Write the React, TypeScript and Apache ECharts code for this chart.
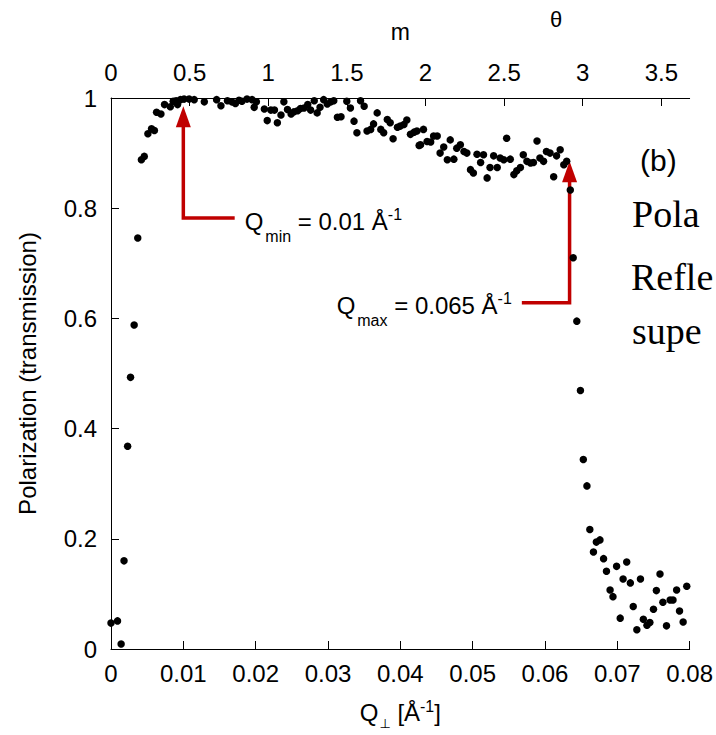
import React, { useEffect, useRef } from "react";
import * as echarts from "echarts";

// Q⊥ (Å^-1) and polarization values, in three segments
const riseQ = [0.0000, 0.0009, 0.0014, 0.0018, 0.0023, 0.0027, 0.0032, 0.0037, 0.0042, 0.0046, 0.0051, 0.0056, 0.0060, 0.0063];
const riseP = [0.047, 0.051, 0.009, 0.160, 0.368, 0.493, 0.588, 0.746, 0.888, 0.894, 0.935, 0.944, 0.941, 0.974];

const plateauQ = [
  0.0069, 0.0074, 0.0082, 0.0086, 0.0090, 0.0092, 0.0096, 0.0101, 0.0108, 0.0115,
  0.0129, 0.0146, 0.0152, 0.0161, 0.0167, 0.0172, 0.0177, 0.0181, 0.0188, 0.0195,
  0.0198, 0.0201, 0.0212, 0.0216, 0.0221, 0.0226, 0.0230, 0.0235, 0.0239, 0.0244,
  0.0249, 0.0253, 0.0258, 0.0262, 0.0267, 0.0272, 0.0276, 0.0281, 0.0285, 0.0289,
  0.0294, 0.0299, 0.0304, 0.0308, 0.0313, 0.0318, 0.0326, 0.0331, 0.0336, 0.0340,
  0.0345, 0.0350, 0.0354, 0.0359, 0.0363, 0.0368, 0.0373, 0.0377, 0.0382, 0.0386,
  0.0390, 0.0396, 0.0400, 0.0405, 0.0409, 0.0414, 0.0419, 0.0423, 0.0426, 0.0428,
  0.0432, 0.0437, 0.0442, 0.0446, 0.0451, 0.0455, 0.0460, 0.0465, 0.0469, 0.0474,
  0.0478, 0.0483, 0.0488, 0.0492, 0.0497, 0.0501, 0.0506, 0.0511, 0.0515, 0.0520,
  0.0524, 0.0529, 0.0534, 0.0538, 0.0543, 0.0547, 0.0552, 0.0557, 0.0561, 0.0566,
  0.0570, 0.0575, 0.0580, 0.0584, 0.0589, 0.0593, 0.0598, 0.0602, 0.0607, 0.0612,
  0.0616, 0.0621, 0.0626, 0.0630,
];
const plateauP = [
  0.971, 0.988, 0.984, 0.994, 0.995, 0.988, 0.997, 0.998, 0.998, 0.997,
  0.993, 0.997, 0.986, 0.995, 0.993, 0.990, 0.996, 0.994, 0.998, 0.997,
  0.983, 0.993, 0.980, 0.959, 0.978, 0.978, 0.955, 0.969, 0.993, 0.979,
  0.971, 0.975, 0.977, 0.981, 0.982, 0.988, 0.978, 0.995, 0.973, 0.983,
  0.997, 0.989, 0.993, 0.995, 0.965, 0.966, 0.994, 0.982, 0.958, 0.937,
  0.995, 0.985, 0.940, 0.943, 0.953, 0.973, 0.943, 0.937, 0.961, 0.955,
  0.926, 0.947, 0.949, 0.952, 0.960, 0.934, 0.938, 0.940, 0.914, 0.915,
  0.943, 0.921, 0.920, 0.931, 0.931, 0.900, 0.911, 0.888, 0.924, 0.889,
  0.909, 0.915, 0.903, 0.900, 0.870, 0.864, 0.898, 0.883, 0.897, 0.855,
  0.874, 0.895, 0.874, 0.891, 0.888, 0.927, 0.889, 0.861, 0.868, 0.874,
  0.897, 0.885, 0.882, 0.883, 0.922, 0.891, 0.885, 0.903, 0.900, 0.857,
  0.895, 0.906, 0.879, 0.885,
];

const dropQ = [
  0.0635, 0.0639, 0.0644, 0.0649, 0.0653, 0.0658, 0.0662, 0.0667, 0.0671, 0.0676,
  0.0681, 0.0685, 0.0690, 0.0694, 0.0699, 0.0704, 0.0708, 0.0713, 0.0718, 0.0722,
  0.0727, 0.0732, 0.0736, 0.0741, 0.0745, 0.0750, 0.0754, 0.0759, 0.0763, 0.0768,
  0.0773, 0.0777, 0.0782, 0.0786, 0.0791, 0.0796,
];
const dropP = [
  0.833, 0.710, 0.595, 0.469, 0.344, 0.296, 0.217, 0.176, 0.194, 0.198,
  0.164, 0.141, 0.107, 0.095, 0.150, 0.056, 0.127, 0.158, 0.120, 0.077,
  0.035, 0.127, 0.054, 0.043, 0.048, 0.072, 0.106, 0.136, 0.085, 0.042,
  0.089, 0.089, 0.107, 0.069, 0.049, 0.114,
];

// axes
const qMin = 0;
const qMax = 0.08;
const qInterval = 0.01;
const mMax = 3.68; // top axis (m = Q / Qc(Ni))
const mInterval = 0.5;
const pMin = 0;
const pMax = 1;
const pInterval = 0.2;

// annotation anchors (data coordinates)
const qminArrow = { q: 0.01, tipP: 0.985, elbowP: 0.782, endQ: 0.0171 };
const qmaxArrow = { q: 0.0634, tipP: 0.885, elbowP: 0.6285, endQ: 0.0568 };

const FONT = "'Liberation Sans', Arial, Helvetica, sans-serif";
const SERIF = "'Liberation Serif', 'Times New Roman', serif";
const RED = "#c00000";

export default function App() {
  const ref = useRef<HTMLDivElement>(null);

  useEffect(() => {
    document.body.style.margin = "0";
    const el = ref.current!;
    const chart = echarts.init(el, null, { renderer: "svg" });

    const data: number[][] = [];
    riseQ.forEach((q, i) => data.push([q, riseP[i]]));
    plateauQ.forEach((q, i) => data.push([q, plateauP[i]]));
    dropQ.forEach((q, i) => data.push([q, dropP[i]]));

    const axisLineStyle = { color: "#000", width: 1 };
    const labelStyle = { color: "#000", fontSize: 24, fontFamily: FONT };

    const option: any = {
      animation: false,
      backgroundColor: "#fff",
      grid: { left: 111, right: 25, top: 98, bottom: 85, containLabel: false },
      xAxis: [
        {
          type: "value",
          position: "bottom",
          min: qMin,
          max: qMax,
          interval: qInterval,
          axisLine: { show: true, onZero: false, lineStyle: axisLineStyle },
          axisTick: { show: true, inside: true, length: 8, lineStyle: { color: "#000" } },
          axisLabel: {
            ...labelStyle,
            margin: 12,
            formatter: (v: number) => String(+v.toFixed(2)),
          },
          splitLine: { show: false },
          name: "{m|Q}{sub|⊥}{m| [Å}{sup|-1}{m|]}",
          nameLocation: "middle",
          nameGap: 46,
          nameTextStyle: {
            color: "#000",
            fontSize: 24,
            fontFamily: FONT,
            rich: {
              m: { fontSize: 24, fontFamily: FONT, color: "#000", verticalAlign: "middle" },
              sub: {
                fontSize: 13,
                fontFamily: "'DejaVu Sans', sans-serif",
                color: "#000",
                verticalAlign: "middle",
                padding: [22, 0, 0, 1],
              },
              sup: { fontSize: 16, fontFamily: FONT, color: "#000", verticalAlign: "middle", padding: [0, 0, 12, 0] },
            },
          },
        },
        {
          type: "value",
          position: "top",
          min: 0,
          max: mMax,
          interval: mInterval,
          axisLine: { show: true, onZero: false, lineStyle: axisLineStyle },
          axisTick: { show: true, inside: true, length: 8, lineStyle: { color: "#000" } },
          axisLabel: {
            ...labelStyle,
            margin: 14,
            showMaxLabel: false,
            formatter: (v: number) => String(+v.toFixed(2)),
          },
          splitLine: { show: false },
          name: "m",
          nameLocation: "middle",
          nameGap: 55,
          nameTextStyle: { color: "#000", fontSize: 23, fontFamily: FONT },
        },
      ],
      yAxis: {
        type: "value",
        min: pMin,
        max: pMax,
        interval: pInterval,
        axisLine: { show: true, onZero: false, lineStyle: axisLineStyle },
        axisTick: { show: true, inside: true, length: 8, lineStyle: { color: "#000" } },
        axisLabel: { ...labelStyle, margin: 14 },
        splitLine: { show: false },
        name: "Polarization (transmission)",
        nameLocation: "middle",
        nameRotate: 90,
        nameGap: 72,
        nameTextStyle: { color: "#000", fontSize: 24, fontFamily: FONT },
      },
      series: [
        {
          type: "scatter",
          xAxisIndex: 0,
          yAxisIndex: 0,
          symbol: "circle",
          symbolSize: 7.5,
          itemStyle: { color: "#000", opacity: 1 },
          silent: true,
          data,
        },
      ],
    };

    chart.setOption(option);

    const px = (q: number, p: number) =>
      chart.convertToPixel({ seriesIndex: 0 }, [q, p]) as number[];

    const arrow = (a: { q: number; tipP: number; elbowP: number; endQ: number }) => {
      const tip = px(a.q, a.tipP);
      const elbow = px(a.q, a.elbowP);
      const end = px(a.endQ, a.elbowP);
      const headLen = 21;
      const headHalf = 7.5;
      return {
        tip,
        elbow,
        end,
        elements: [
          {
            type: "polyline",
            silent: true,
            shape: { points: [[end[0], elbow[1]], [elbow[0], elbow[1]], [tip[0], tip[1] + headLen - 2]] },
            style: { stroke: RED, lineWidth: 3.5, fill: "none", lineJoin: "miter" },
          },
          {
            type: "polygon",
            silent: true,
            shape: {
              points: [
                [tip[0], tip[1]],
                [tip[0] - headHalf, tip[1] + headLen],
                [tip[0] + headHalf, tip[1] + headLen],
              ],
            },
            style: { fill: RED, stroke: "none" },
          },
        ],
      };
    };

    const a1 = arrow(qminArrow);
    const a2 = arrow(qmaxArrow);

    const annRich = {
      m: { fontSize: 24, fontFamily: FONT, fill: "#000", verticalAlign: "middle" },
      sub: { fontSize: 16, fontFamily: FONT, fill: "#000", verticalAlign: "middle", padding: [30, 0, 0, 2] },
      sup: { fontSize: 16, fontFamily: FONT, fill: "#000", verticalAlign: "middle", padding: [0, 0, 14, 0] },
    };

    const serifText = (text: string, x: number, y: number) => ({
      type: "text",
      silent: true,
      x,
      y,
      style: { text, fontSize: 38, fontFamily: SERIF, fill: "#000", align: "left", verticalAlign: "middle" },
    });

    chart.setOption({
      graphic: [
        ...a1.elements,
        ...a2.elements,
        {
          type: "text",
          silent: true,
          x: a1.end[0] + 10,
          y: a1.elbow[1] + 3,
          style: {
            text: "{m|Q}{sub|min}{m| = 0.01 Å}{sup|-1}",
            rich: annRich,
            align: "left",
            verticalAlign: "middle",
            fill: "#000",
          },
        },
        {
          type: "text",
          silent: true,
          x: a2.end[0] - 10,
          y: a2.elbow[1] + 3,
          style: {
            text: "{m|Q}{sub|max}{m| = 0.065 Å}{sup|-1}",
            rich: annRich,
            align: "right",
            verticalAlign: "middle",
            fill: "#000",
          },
        },
        {
          type: "text",
          silent: true,
          x: 640,
          y: 160,
          style: { text: "(b)", fontSize: 30, fontFamily: FONT, fill: "#000", align: "left", verticalAlign: "middle" },
        },
        serifText("Pola", 632, 214),
        serifText("Refle", 631, 277),
        serifText("supe", 632, 331),
        {
          type: "text",
          silent: true,
          x: 556,
          y: 19,
          style: { text: "θ", fontSize: 22, fontFamily: FONT, fill: "#000", align: "center", verticalAlign: "middle" },
        },
      ],
    });

    return () => {
      chart.dispose();
    };
  }, []);

  return <div ref={ref} style={{ width: 716, height: 735, overflow: "hidden" }} />;
}
